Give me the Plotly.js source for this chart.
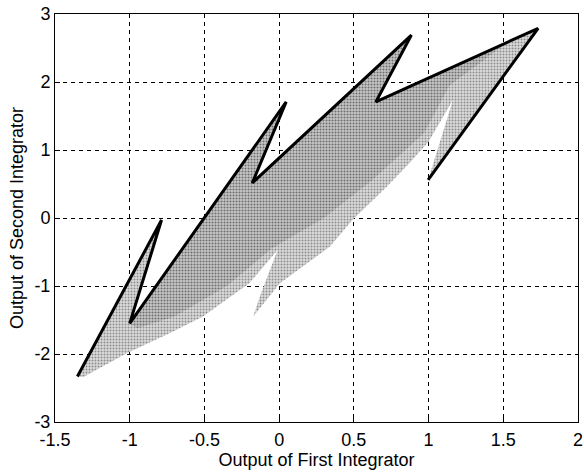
<!DOCTYPE html>
<html>
<head>
<meta charset="utf-8">
<script src="https://cdn.plot.ly/plotly-3.0.1.min.js"></script>
<style>html,body{margin:0;padding:0;background:#fff;}#chart{width:584px;height:474px;}</style>
</head>
<body>
<div id="chart"></div>
<script>
// Trajectory (thick black zig-zag line)
var lineX = [-1.35, -0.787, -1.0, 0.047, -0.18, 0.885, 0.647, 1.733, 0.997];
var lineY = [-2.33, -0.03, -1.55, 1.706, 0.515, 2.69, 1.706, 2.79, 0.56];

// Lower / right boundary of the gray cloud of visited states (traced back to the start)
var lowerX = [1.02, 1.163, 1.06, 1.0, 0.86, 0.72, 0.49, 0.34, 0.005, -0.174, -0.12, -0.01, -0.2, -0.51, -0.73, -1.02, -1.31];
var lowerY = [0.72, 1.735, 1.35, 1.12, 0.78, 0.46, -0.03, -0.42, -0.96, -1.45, -1.1, -0.47, -0.96, -1.45, -1.69, -1.99, -2.34];

// Denser core of the cloud
var coreX = [-1.0, 0.047, -0.18, 0.885, 0.647, 1.55, 1.14, 0.97, 0.62, 0.3, -0.05, -0.35, -0.7, -0.95];
var coreY = [-1.55, 1.706, 0.515, 2.69, 1.706, 2.62, 1.95, 1.25, 0.55, 0.0, -0.45, -1.0, -1.45, -1.62];

var xTickVals = [-1.5, -1, -0.5, 0, 0.5, 1, 1.5, 2];
var xTickText = ["-1.5", "-1", "-0.5", "0", "0.5", "1", "1.5", "2"];
var yTickVals = [-3, -2, -1, 0, 1, 2, 3];
var yTickText = ["-3", "-2", "-1", "0", "1", "2", "3"];

var cloudX = lineX.concat(lowerX);
var cloudY = lineY.concat(lowerY);

var font = {family: "Liberation Sans, Arial, Helvetica, sans-serif", size: 18, color: "#000"};

var traces = [
  {
    x: cloudX, y: cloudY, type: "scatter", mode: "lines",
    fill: "toself", line: {width: 0, color: "rgba(0,0,0,0)"},
    fillcolor: "#c8c8c8",
    fillpattern: {shape: ".", size: 3, solidity: 0.35, fgcolor: "#8c8c8c", bgcolor: "#dcdcdc"},
    hoverinfo: "skip"
  },
  {
    x: coreX, y: coreY, type: "scatter", mode: "lines",
    fill: "toself", line: {width: 0, color: "rgba(0,0,0,0)"},
    fillcolor: "#b0b0b0",
    fillpattern: {shape: ".", size: 3, solidity: 0.4, fgcolor: "#6e6e6e", bgcolor: "#c8c8c8"},
    hoverinfo: "skip"
  },
  {
    x: lineX, y: lineY, type: "scatter", mode: "lines",
    line: {color: "#000", width: 3}, hoverinfo: "skip"
  }
];

var axisCommon = {
  showline: true, mirror: true, linecolor: "#000", linewidth: 1,
  ticks: "inside", ticklen: 5, tickcolor: "#000", tickwidth: 1,
  showgrid: true, gridcolor: "#000", gridwidth: 1, griddash: "4px,4px",
  zeroline: false, tickfont: font, tickmode: "array", fixedrange: true
};

var layout = {
  width: 584, height: 474,
  margin: {l: 55, r: 6, t: 14, b: 52},
  paper_bgcolor: "#fff", plot_bgcolor: "#fff",
  showlegend: false,
  font: font,
  xaxis: Object.assign({}, axisCommon, {
    range: [-1.5, 2], tickvals: xTickVals, ticktext: xTickText,
    ticklabelstandoff: 1,
    title: {text: "Output of First Integrator", font: font, standoff: 3}
  }),
  yaxis: Object.assign({}, axisCommon, {
    range: [-3, 3], tickvals: yTickVals, ticktext: yTickText,
    title: {text: "Output of Second Integrator", font: font, standoff: 6}
  })
};

Plotly.newPlot("chart", traces, layout, {displayModeBar: false, staticPlot: true});
</script>
</body>
</html>
